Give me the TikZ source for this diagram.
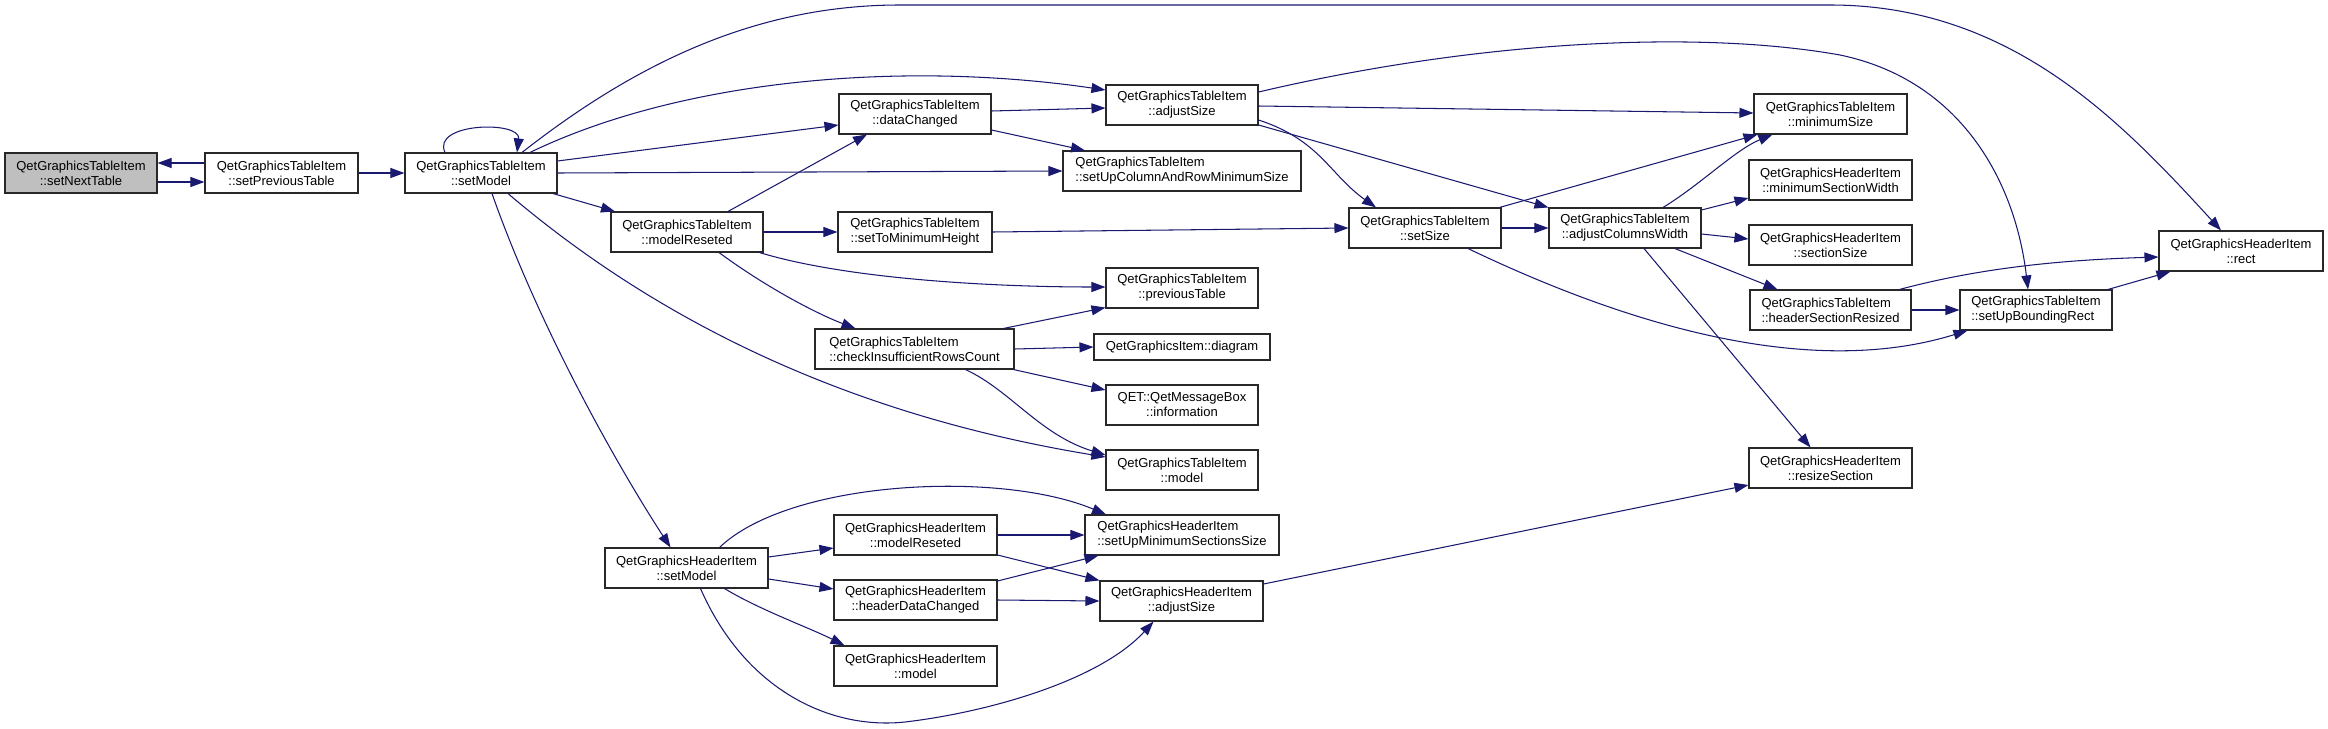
\documentclass[tikz,border=0pt]{standalone}
\usepackage{fontspec}
\setmainfont{Liberation Sans}
\usetikzlibrary{arrows.meta,calc}
\definecolor{edgeblue}{RGB}{25,25,112}
\definecolor{rootgray}{RGB}{191,191,191}
\definecolor{boxline}{RGB}{40,40,40}
\begin{document}
\begin{tikzpicture}[x=1pt,y=-1pt,
  fn/.style={draw=boxline, line width=1.1pt, fill=white, inner sep=0pt, minimum height=40pt, font=\fontsize{13}{15}\selectfont, align=center},
  fnl/.style={fn, align=left},
  call/.style={draw=edgeblue, line width=1.05pt, -{Triangle[length=14pt,width=10pt]}}
]
\fill[white] (0,0) rectangle (2328,728);
\useasboundingbox (0,0) rectangle (2328,728);

\node[fn, fill=rootgray, minimum width=152pt] (nt) at (81,173) {QetGraphicsTableItem\\::setNextTable};
\node[fn, minimum width=153pt] (pt) at (281.5,173) {QetGraphicsTableItem\\::setPreviousTable};
\node[fn, minimum width=152pt] (sm) at (481,173) {QetGraphicsTableItem\\::setModel};
\node[fn, minimum width=152pt] (dc) at (915,114) {QetGraphicsTableItem\\::dataChanged};
\node[fn, minimum width=152pt] (as) at (1182,105) {QetGraphicsTableItem\\::adjustSize};
\node[fnl, minimum width=238pt] (cr) at (1182,171) {QetGraphicsTableItem\\::setUpColumnAndRowMinimumSize};
\node[fn, minimum width=152pt] (mr) at (687,232) {QetGraphicsTableItem\\::modelReseted};
\node[fn, minimum width=154pt] (tm) at (915,232) {QetGraphicsTableItem\\::setToMinimumHeight};
\node[fn, minimum width=152pt] (pv) at (1182,288) {QetGraphicsTableItem\\::previousTable};
\node[fnl, minimum width=199pt] (ci) at (914.5,349) {QetGraphicsTableItem\\::checkInsufficientRowsCount};
\node[fn, minimum width=176pt, minimum height=26pt] (dg) at (1182,347) {QetGraphicsItem::diagram};
\node[fn, minimum width=152pt] (inf) at (1182,405) {QET::QetMessageBox\\::information};
\node[fn, minimum width=152pt] (tmod) at (1182,470) {QetGraphicsTableItem\\::model};
\node[fn, minimum width=163pt] (hsm) at (686.5,568) {QetGraphicsHeaderItem\\::setModel};
\node[fn, minimum width=163pt] (hmr) at (915.5,535) {QetGraphicsHeaderItem\\::modelReseted};
\node[fn, minimum width=163pt] (hdc) at (915.5,600) {QetGraphicsHeaderItem\\::headerDataChanged};
\node[fn, minimum width=163pt] (hmod) at (915.5,666) {QetGraphicsHeaderItem\\::model};
\node[fnl, minimum width=194pt] (ums) at (1182,535) {QetGraphicsHeaderItem\\::setUpMinimumSectionsSize};
\node[fn, minimum width=163pt] (has) at (1181.5,601) {QetGraphicsHeaderItem\\::adjustSize};
\node[fn, minimum width=153pt] (ms) at (1830.5,114) {QetGraphicsTableItem\\::minimumSize};
\node[fn, minimum width=152pt] (ss) at (1425,228) {QetGraphicsTableItem\\::setSize};
\node[fn, minimum width=152pt] (acw) at (1625,228) {QetGraphicsTableItem\\::adjustColumnsWidth};
\node[fn, minimum width=163pt] (msw) at (1830.5,180) {QetGraphicsHeaderItem\\::minimumSectionWidth};
\node[fn, minimum width=163pt] (sz) at (1830.5,245) {QetGraphicsHeaderItem\\::sectionSize};
\node[fnl, minimum width=161pt] (hsr) at (1830.5,310) {QetGraphicsTableItem\\::headerSectionResized};
\node[fnl, minimum width=152pt] (ubr) at (2036,310) {QetGraphicsTableItem\\::setUpBoundingRect};
\node[fn, minimum width=164pt] (rc) at (2241,251) {QetGraphicsHeaderItem\\::rect};
\node[fn, minimum width=163pt] (rs) at (1830.5,468) {QetGraphicsHeaderItem\\::resizeSection};

\draw[call] ($(pt.west)+(0,-10)$) -- ($(nt.east)+(0,-10)$);
\draw[call] ($(nt.east)+(0,9)$) -- ($(pt.west)+(0,9)$);
\draw[call] (pt.east) -- (sm.west);
\draw[call] ($(sm.north)+(-36,0)$) .. controls ($(sm.north)+(-50,-30)$) and ($(sm.north)+(40,-32)$) .. ($(sm.north)+(36,0)$);
\draw[call] ($(sm.north)+(41,0)$) .. controls (640,60) and (760,5) .. (900,5) -- (1830,5) .. controls (2010,5) and (2120,120) .. ($(rc.north)+(-20,0)$);
\draw[call] ($(sm.north)+(49,0)$) .. controls (680,80) and (900,60) .. ($(as.west)+(0,-15)$);
\draw[call] ($(sm.east)+(0,-12)$) -- ($(dc.west)+(0,11)$);
\draw[call] (sm.east) -- (cr.west);
\draw[call] ($(sm.south)+(72,0)$) -- ($(mr.north)+(-72,0)$);
\draw[call] ($(sm.south)+(27,0)$) .. controls (680,340) and (880,420) .. ($(tmod.west)+(0,-13)$);
\draw[call] ($(sm.south)+(11,0)$) .. controls (540,330) and (620,470) .. ($(hsm.north)+(-16,0)$);
\draw[call] ($(mr.north)+(41,0)$) -- ($(dc.south)+(-48,0)$);
\draw[call] (mr.east) -- (tm.west);
\draw[call] ($(mr.south east)+(-4,0)$) .. controls (850,280) and (1000,287) .. ($(pv.west)+(0,-1)$);
\draw[call] ($(mr.south)+(32,0)$) .. controls (770,290) and (820,315) .. ($(ci.north)+(-59,0)$);
\draw[call] ($(dc.east)+(0,-3)$) -- ($(as.west)+(0,3)$);
\draw[call] ($(dc.east)+(0,16)$) -- ($(cr.north)+(-97,0)$);
\draw[call] (tm.east) -- (ss.west);
\draw[call] ($(ci.north)+(89,0)$) -- ($(pv.south west)+(0,-1)$);
\draw[call] (ci.east) -- (dg.west);
\draw[call] ($(ci.south east)+(-1,0)$) -- ($(inf.west)+(0,-15)$);
\draw[call] ($(ci.south)+(51,0)$) .. controls (1010,390) and (1040,435) .. ($(tmod.west)+(0,-15)$);
\draw[call] ($(as.east)+(0,-13)$) .. controls (1480,40) and (1700,30) .. (1840,55) .. controls (1960,80) and (2015,180) .. ($(ubr.north)+(-8,0)$);
\draw[call] ($(as.east)+(0,1)$) -- ($(ms.west)+(0,-1)$);
\draw[call] ($(as.east)+(0,15)$) .. controls (1320,140) and (1330,175) .. ($(ss.north)+(-49,0)$);
\draw[call] ($(as.east)+(0,20)$) -- (acw.north west);
\draw[call] ($(ss.north east)+(-2,0)$) -- ($(ms.south west)+(4,0)$);
\draw[call] (ss.east) -- (acw.west);
\draw[call] ($(ss.south)+(43,0)$) .. controls (1680,350) and (1840,370) .. ($(ubr.south west)+(8,0)$);
\draw[call] ($(acw.north)+(38,0)$) .. controls (1700,185) and (1735,150) .. ($(ms.south west)+(19,0)$);
\draw[call] ($(acw.east)+(0,-18)$) -- ($(msw.west)+(0,18)$);
\draw[call] ($(acw.east)+(0,6)$) -- ($(sz.west)+(0,-6)$);
\draw[call] ($(acw.south)+(50,0)$) -- ($(hsr.north)+(-53,0)$);
\draw[call] ($(acw.south)+(19,0)$) -- ($(rs.north)+(-20,0)$);
\draw[call] ($(hsr.north)+(69,0)$) .. controls (1980,268) and (2060,260) .. ($(rc.west)+(0,6)$);
\draw[call] (hsr.east) -- (ubr.west);
\draw[call] ($(ubr.north)+(72,0)$) -- ($(rc.south west)+(12,0)$);
\draw[call] ($(hsm.north)+(33,0)$) .. controls (790,480) and (1000,470) .. ($(ums.north)+(-76,0)$);
\draw[call] ($(hsm.east)+(0,-11)$) -- ($(hmr.west)+(0,13)$);
\draw[call] ($(hsm.east)+(0,11)$) -- ($(hdc.west)+(0,-11)$);
\draw[call] ($(hsm.south)+(38,0)$) .. controls (760,610) and (810,628) .. ($(hmod.north)+(-71,0)$);
\draw[call] ($(hsm.south)+(14,0)$) .. controls (745,690) and (830,730) .. (905,722) .. controls (990,712) and (1100,680) .. ($(has.south)+(-28,0)$);
\draw[call] (hmr.east) -- (ums.west);
\draw[call] ($(hmr.east)+(0,20)$) -- (has.north west);
\draw[call] ($(hdc.east)+(0,-19)$) -- ($(ums.south west)+(14,0)$);
\draw[call] (hdc.east) -- (has.west);
\draw[call] ($(has.east)+(0,-17)$) -- ($(rs.west)+(0,17)$);
\end{tikzpicture}
\end{document}
